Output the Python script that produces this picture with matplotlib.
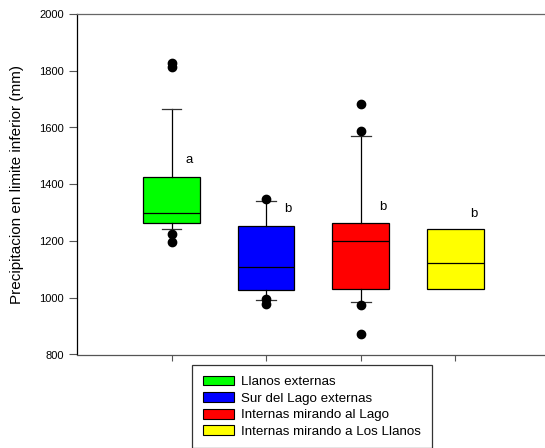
import matplotlib
matplotlib.use("Agg")
import matplotlib.pyplot as plt
from matplotlib.patches import Patch

plt.rcParams['font.family'] = ['Liberation Sans', 'DejaVu Sans']

categories = ["Llanos externas", "Sur del Lago externas",
              "Internas mirando al Lago", "Internas mirando a Los Llanos"]
colors = ["#00ff00", "#0000ff", "#ff0000", "#ffff00"]
q1 = [1263, 1028, 1031, 1030]
med = [1300, 1109, 1200, 1124]
q3 = [1424, 1253, 1265, 1244]
whislo = [1243, 991, 986, 1030]
whishi = [1666, 1342, 1571, 1244]
fliers = [[1826, 1812, 1226, 1197],
          [1349, 994, 977],
          [1682, 1587, 974, 873],
          []]
letters = ["a", "b", "b", "b"]
letter_y = [1484, 1313, 1320, 1295]
yticks = [800, 1000, 1200, 1400, 1600, 1800, 2000]

fig = plt.figure(figsize=(5.45, 4.48), dpi=100)
ax = fig.add_axes([77/545, 1-354.5/448, 1-77/545, (354.5-14)/448])

stats = []
for i in range(4):
    stats.append(dict(q1=q1[i], med=med[i], q3=q3[i], whislo=whislo[i],
                      whishi=whishi[i], fliers=fliers[i], label=categories[i]))
pos = [1, 2, 3, 4]
bp = ax.bxp(stats, positions=pos, widths=0.6, patch_artist=True,
            showfliers=True,
            boxprops=dict(edgecolor="black", linewidth=0.9),
            medianprops=dict(color="black", linewidth=0.9),
            whiskerprops=dict(color="black", linewidth=0.9),
            capprops=dict(color="#333333", linewidth=0.9),
            flierprops=dict(marker="o", markerfacecolor="black",
                            markeredgecolor="black", markersize=6))
for patch, c in zip(bp["boxes"], colors):
    patch.set_facecolor(c)
for cap in bp["caps"]:
    x = cap.get_xdata()
    cx = (x[0] + x[1]) / 2
    cap.set_xdata([cx - 0.105, cx + 0.105])
# yellow has no whiskers/caps
for art in bp["whiskers"][6:8] + bp["caps"][6:8]:
    art.set_visible(False)

offs = [0.19, 0.23, 0.23, 0.2]
for i in range(4):
    ax.text(pos[i] + offs[i], letter_y[i], letters[i], fontsize=9.5,
            ha="center", va="center")

ax.set_xlim(0, 4.95)
ax.set_ylim(800, 2000)
ax.set_yticks(yticks)
ax.set_yticklabels([str(v) for v in yticks], fontsize=8)
ax.set_xticks(pos)
ax.set_xticklabels([])
ax.tick_params(axis="y", direction="out", length=6, width=0.8, color="#555555")
ax.tick_params(axis="x", direction="out", length=4, width=0.8, color="#555555")
ax.spines["right"].set_visible(False)
ax.spines["top"].set_color("#666666")
ax.spines["bottom"].set_color("#555555")
ax.spines["left"].set_color("black")
for s in ax.spines.values():
    s.set_linewidth(0.9)
ax.set_ylabel("Precipitacion en limite inferior (mm)", fontsize=11)
ax.yaxis.set_label_coords(-0.113, 0.5)

handles = [Patch(facecolor=c, edgecolor="black", linewidth=0.8) for c in colors]
leg = fig.legend(handles, categories, loc="upper left",
                 bbox_to_anchor=(192/545, 1-365/448), fontsize=9.6,
                 frameon=True, fancybox=False, handlelength=2.35,
                 handleheight=0.75, handletextpad=0.55, labelspacing=0.3,
                 borderpad=0.8, borderaxespad=0)
leg.get_frame().set_edgecolor("black")
leg.get_frame().set_linewidth(0.9)

fig.savefig("out.png", dpi=100)
